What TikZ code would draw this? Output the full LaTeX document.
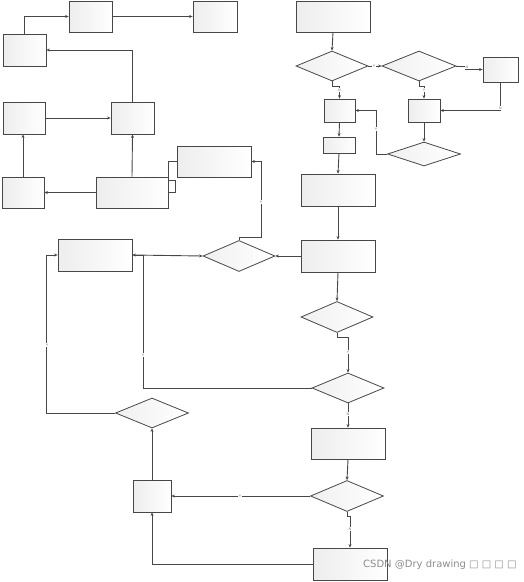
\documentclass[tikz,border=0pt]{standalone}
\usepackage{fontspec}
\newfontfamily\wmfont{DejaVu Sans}
\usetikzlibrary{shapes.geometric,arrows.meta,calc}
\begin{document}
\begin{tikzpicture}[x=1pt,y=-1pt,
  boxnode/.style={rectangle,draw=black!72,line width=0.8pt,left color=gray!14,right color=white,inner sep=0pt},
  dia/.style={diamond,draw=black!72,line width=0.8pt,left color=gray!12,right color=white,inner sep=0pt},
  arr/.style={draw=black!72,line width=0.9pt,-{Stealth[length=3.5pt,width=3pt]}},
  plain/.style={draw=black!72,line width=0.9pt},
  lbl/.style={font=\fontsize{3.5}{4}\selectfont\sffamily,text=black!60,fill=white,inner sep=0.3pt}]
\useasboundingbox (0,0) rectangle (523,582);
% left cluster
\node[boxnode,minimum width=43pt,minimum height=31pt] (A) at (90.5,16.5) {};
\node[boxnode,minimum width=44pt,minimum height=31pt] (B) at (215,16.5) {};
\node[boxnode,minimum width=43pt,minimum height=32pt] (C) at (24.5,50) {};
\node[boxnode,minimum width=42pt,minimum height=32pt] (D) at (24,118) {};
\node[boxnode,minimum width=43pt,minimum height=32pt] (E) at (132.5,118) {};
\node[boxnode,minimum width=42pt,minimum height=31pt] (F) at (23,192.5) {};
\node[boxnode,minimum width=72pt,minimum height=31pt] (G) at (132,192.5) {};
\node[boxnode,minimum width=74pt,minimum height=31pt] (H) at (214,161.5) {};
% right cluster
\node[boxnode,minimum width=74pt,minimum height=31pt] (I) at (333,16.5) {};
\node[dia,minimum width=72pt,minimum height=30pt] (J) at (332,66) {};
\node[dia,minimum width=74pt,minimum height=30pt] (K) at (419,66) {};
\node[boxnode,minimum width=35pt,minimum height=25pt] (L) at (500.5,69.5) {};
\node[boxnode,minimum width=31pt,minimum height=23pt] (M) at (339.5,110.5) {};
\node[boxnode,minimum width=32pt,minimum height=23pt] (N) at (424,110.5) {};
\node[boxnode,minimum width=32pt,minimum height=16pt] (O) at (339,145) {};
\node[dia,minimum width=73pt,minimum height=24pt] (P) at (424,154) {};
\node[boxnode,minimum width=74pt,minimum height=32pt] (Q) at (338,190) {};
\node[boxnode,minimum width=74pt,minimum height=32pt] (R) at (338,256) {};
\node[dia,minimum width=72pt,minimum height=31pt] (S) at (239,256) {};
\node[dia,minimum width=72pt,minimum height=31pt] (T) at (337,317) {};
\node[dia,minimum width=72pt,minimum height=30pt] (U) at (348,388) {};
\node[boxnode,minimum width=74pt,minimum height=32pt] (V) at (95,255) {};
\node[dia,minimum width=73pt,minimum height=30pt] (W) at (152,413) {};
\node[boxnode,minimum width=38pt,minimum height=32pt] (X) at (152,496) {};
\node[boxnode,minimum width=74pt,minimum height=31pt] (Z) at (348,443.5) {};
\node[dia,minimum width=73pt,minimum height=31pt] (AA) at (347,496) {};
\node[boxnode,minimum width=74pt,minimum height=32pt] (BB) at (350,564) {};
% connectors left cluster
\draw[arr] (C.north) |- (A.west);
\draw[arr] (A.east) -- (B.west);
\draw[arr] (E.north) |- (C.east);
\draw[arr] (D.east) -- (E.west);
\draw[arr] (F.north) -- (F.north |- D.south);
\draw[arr] (G.north) -- (E.south);
\draw[arr] (G.west) -- (F.east);
\draw[plain] (H.west) -- ++(-8,0) -- ++(0,18.5) -- ++(7,0) |- (G.east);
\draw[arr] (S.north) -- ++(0,-3) -| ($(H.east)+(10,0)$) -- (H.east);
\node[lbl] (ly1) at (261,202) {Y};
% connectors right cluster
\draw[arr] (I.south) -- (J.north);
\draw[arr] (J.east) -- (K.west);
\node[lbl] (ly2) at (374,66) {Y};
\draw[arr] (K.east) -- ++(9,0) |- (L.west);
\node[lbl] (ln1) at (467,67) {N};
\draw[arr] (J.south) -- ++(0,5) -| (M.north);
\node[lbl] (ln2) at (339.5,90) {N};
\draw[arr] (K.south) -- ++(0,5) -| (N.north);
\node[lbl] (ly3) at (424,90) {Y};
\draw[arr] (L.south) |- (N.east);
\node[lbl] (ln3) at (500.5,108) {N};
\draw[arr] (M.south) -- (O.north);
\draw[arr] (N.south) -- (P.north);
\draw[arr] (P.west) -| ($(M.east)+(21,0)$) -- (M.east);
\node[lbl] (ly4) at (376,129) {Y};
\draw[arr] (O.south) -- (Q.north);
\draw[arr] (Q.south) -- (R.north);
\draw[arr] (R.west) -- (S.east);
\draw[arr] (V.east) -- (S.west);
\draw[arr] (R.south) -- (T.north);
\draw[arr] (T.south) -- ++(0,5) -| (U.north);
\node[lbl] (ly5) at (348,352) {Y};
\draw[arr] (U.west) -| ($(V.east)+(11,0)$) -- (V.east);
\node[lbl] (ly6) at (143,355) {Y};
\draw[arr] (W.west) -| ($(V.west)+(-11,0)$) -- (V.west);
\node[lbl] (ly7) at (47,345) {Y};
\draw[arr] (X.north) -- (W.south);
\draw[arr] (U.south) -- (Z.north);
\node[lbl] (ln4) at (348,414) {N};
\draw[arr] (Z.south) -- (AA.north);
\draw[arr] (AA.west) -- (X.east);
\node[lbl] (ly8) at (240,496) {Y};
\draw[arr] (AA.south) -- ++(0,5) -| (BB.north);
\node[lbl] (ln5) at (350,529) {N};
\draw[arr] (BB.west) -| (X.south);
% watermark
\node[anchor=west,inner sep=0pt,text=black!45,font=\wmfont\fontsize{10}{12}\selectfont] (wm) at (363,565) {CSDN @Dry drawing □ □ □ □};
\end{tikzpicture}
\end{document}
